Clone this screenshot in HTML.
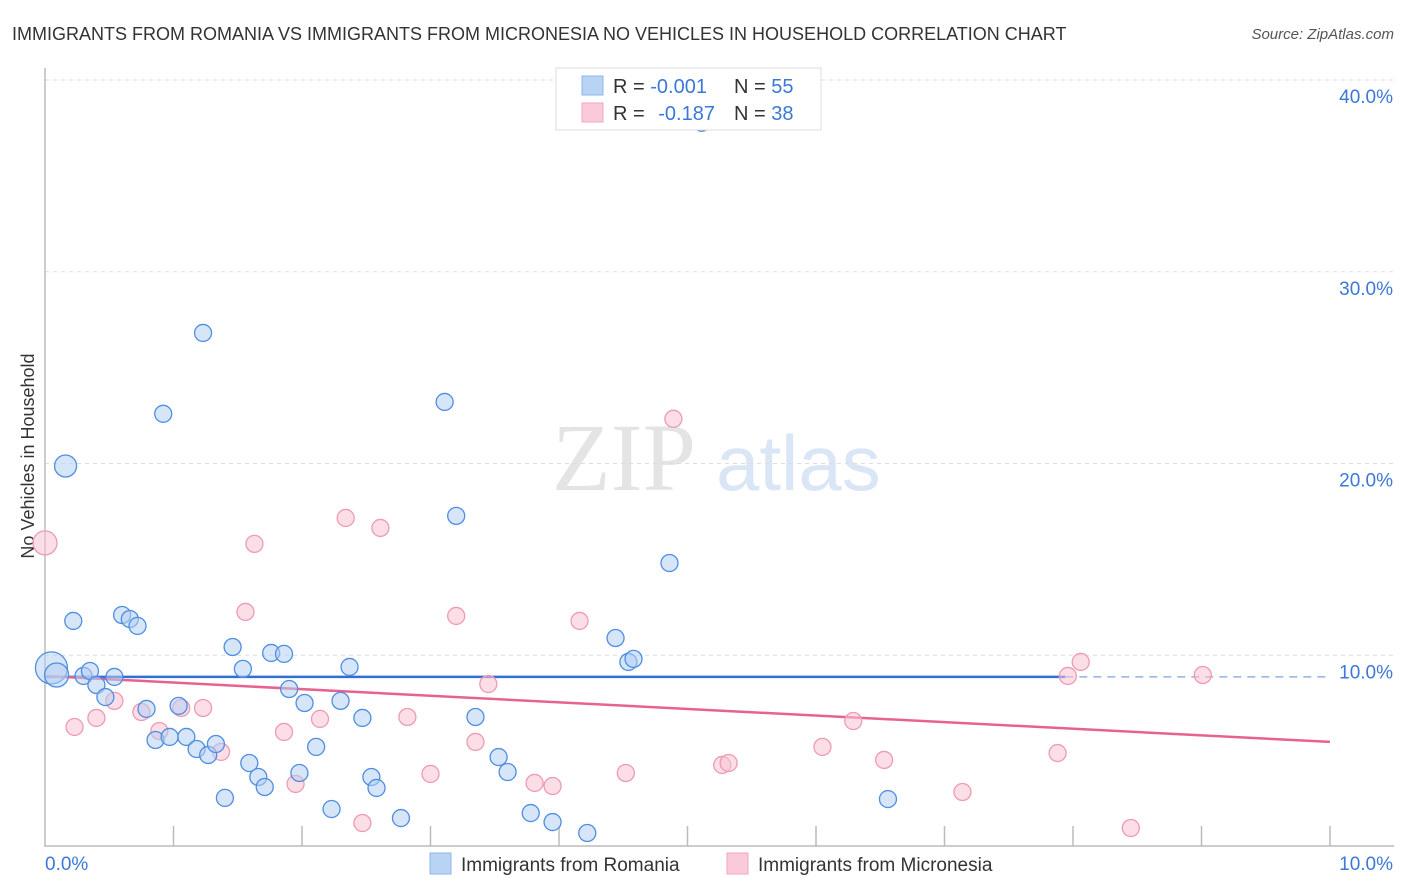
<!DOCTYPE html>
<html><head><meta charset="utf-8"><style>
body{margin:0;background:#fff;font-family:"Liberation Sans",sans-serif;}
svg{display:block}
</style></head><body>
<svg width="1406" height="892" xmlns="http://www.w3.org/2000/svg" id="chart">
<text x="12" y="40" font-size="18" fill="#333">IMMIGRANTS FROM ROMANIA VS IMMIGRANTS FROM MICRONESIA NO VEHICLES IN HOUSEHOLD CORRELATION CHART</text>
<text x="1394" y="39" font-size="15" font-style="italic" fill="#555" text-anchor="end">Source: ZipAtlas.com</text>
<g opacity="0.9">
<text x="552" y="490" font-size="96" font-family="Liberation Serif,serif" fill="#e2e2e2">ZIP</text>
<text x="716" y="490" font-size="78" fill="#d6e4f5">atlas</text>
</g>
<text transform="translate(34,456) rotate(-90)" font-size="18" fill="#333" text-anchor="middle">No Vehicles in Household</text>
<g id="grid"></g><g id="axes"></g><g id="trend"></g><g id="pts"></g>
<g>
<rect x="556" y="68" width="265" height="62" fill="#fff" stroke="#ddd"/>
<rect x="582" y="76" width="21" height="19" fill="#b9d3f5" stroke="#8fb4e8"/>
<rect x="582" y="103" width="21" height="19" fill="#fbcad8" stroke="#f0a5bd"/>
<text x="613" y="93" font-size="20" fill="#333">R = <tspan fill="#3b78d8">-0.001</tspan><tspan x="734">N = </tspan><tspan fill="#3b78d8">55</tspan></text>
<text x="613" y="120" font-size="20" fill="#333">R = <tspan fill="#3b78d8" dx="8">-0.187</tspan><tspan x="734">N = </tspan><tspan fill="#3b78d8">38</tspan></text>
</g>
<g>
<rect x="430" y="853" width="21" height="21" fill="#b9d3f5" stroke="#8fb4e8"/>
<text x="461" y="871" font-size="19" fill="#333">Immigrants from Romania</text>
<rect x="727" y="853" width="21" height="21" fill="#fbcad8" stroke="#f0a5bd"/>
<text x="758" y="871" font-size="19" fill="#333">Immigrants from Micronesia</text>
</g>
</svg>
<script>
const yTicks=[10,20,30,40];
const yTickLabels=["10.0%","20.0%","30.0%","40.0%"];
const xTickLabels=["0.0%","10.0%"];
const romaniaX=[0.05,0.09,0.16,0.22,0.30,0.35,0.40,0.47,0.54,0.60,0.66,0.72,0.79,0.86,0.92,0.97,1.04,1.10,1.18,1.23,1.27,1.33,1.40,1.46,1.54,1.59,1.66,1.71,1.76,1.86,1.90,1.98,2.02,2.11,2.23,2.30,2.37,2.47,2.54,2.58,2.77,3.11,3.20,3.35,3.53,3.60,3.78,3.95,4.22,4.44,4.54,4.58,4.86,5.11,6.56];
const romaniaY=[9.34,8.97,19.87,11.79,8.92,9.18,8.45,7.82,8.87,12.10,11.89,11.53,7.20,5.58,22.59,5.74,7.36,5.74,5.11,26.81,4.80,5.37,2.56,10.43,9.29,4.38,3.65,3.13,10.12,10.07,8.24,3.86,7.51,5.22,1.98,7.62,9.39,6.73,3.65,3.08,1.51,23.21,17.27,6.78,4.69,3.91,1.77,1.30,0.73,10.90,9.65,9.81,14.81,37.77,2.50];
const romaniaSize=[16,12,11];
const micronesiaX=[0.0,0.23,0.40,0.54,0.75,0.89,1.06,1.23,1.37,1.56,1.63,1.86,1.95,2.14,2.34,2.47,2.61,2.82,3.00,3.20,3.35,3.45,3.81,3.95,4.16,4.52,4.89,5.27,5.32,6.05,6.29,6.53,7.14,7.88,7.96,8.06,8.45,9.01];
const micronesiaY=[15.86,6.26,6.73,7.62,7.04,6.05,7.25,7.25,4.96,12.26,15.81,6.00,3.29,6.68,17.16,1.25,16.64,6.78,3.81,12.05,5.48,8.50,3.34,3.18,11.79,3.86,22.33,4.28,4.38,5.22,6.57,4.54,2.87,4.90,8.92,9.65,0.99,8.97];
const micronesiaSize=[12];
const romaniaTrend=[8.87,8.87];
const romaniaTrendSolidEnd=7.94;
const micronesiaTrend=[8.92,5.48];
const xMax=10;

const NS="http://www.w3.org/2000/svg";
const X0=45,X1=1330,Y0=847,Y40=80;
const sx=v=>X0+(X1-X0)*v/xMax;
const sy=v=>Y0-(Y0-Y40)*v/40;
function mk(tag,attrs,parent){const e=document.createElementNS(NS,tag);for(const k in attrs)e.setAttribute(k,attrs[k]);document.getElementById(parent).appendChild(e);return e;}

yTicks.forEach((t,i)=>{
  const g=mk('line',{x1:X0,x2:1394,y1:sy(t),y2:sy(t),stroke:'#ddd','stroke-dasharray':'4,4'},'grid');
  
  
  const l=mk('text',{x:1393,y:sy(t)+23,'font-size':19,fill:'#3b78d8','text-anchor':'end'},'grid');
  l.textContent=yTickLabels[i];
  
  
});
const ya=mk('line',{x1:X0,x2:X0,y1:68,y2:Y0,stroke:'#bbb','stroke-width':1.5},'axes');


const xa=mk('line',{x1:X0,x2:1394,y1:846,y2:846,stroke:'#bbb','stroke-width':1.5},'axes');


for(let i=1;i<=10;i++){
  const t=mk('line',{x1:sx(i),x2:sx(i),y1:826,y2:846,stroke:'#bbb','stroke-width':1.5},'axes');
  
  
}
[[0,'start',X0],[xMax,'end',1393]].forEach((d,i)=>{
  const l=mk('text',{x:d[2],y:870,'font-size':19,fill:'#3b78d8','text-anchor':d[1]},'axes');
  l.textContent=xTickLabels[i];
  
  
});

function pts(xs,ys,sizes,fill,stroke,name){
  xs.forEach((x,i)=>{
    const c=mk('circle',{cx:sx(x),cy:sy(ys[i]),r:sizes[i]||8.5,fill:fill,'fill-opacity':0.55,stroke:stroke,'stroke-width':1.3},'pts');
    
    
  });
}
pts(micronesiaX,micronesiaY,micronesiaSize,'#f9c3d3','#ee9ab4','micronesia-point');
pts(romaniaX,romaniaY,romaniaSize,'#b4cff3','#4f8ee0','romania-point');

const ty=(tr,x)=>tr[0]+(tr[1]-tr[0])*x/xMax;
const bl=mk('line',{x1:sx(0),y1:sy(ty(romaniaTrend,0)),x2:sx(romaniaTrendSolidEnd),y2:sy(ty(romaniaTrend,romaniaTrendSolidEnd)),stroke:'#2f6fd6','stroke-width':2.5},'trend');


const bd=mk('line',{x1:sx(romaniaTrendSolidEnd),y1:sy(ty(romaniaTrend,romaniaTrendSolidEnd)),x2:sx(xMax),y2:sy(ty(romaniaTrend,xMax)),stroke:'#8fb4e8','stroke-width':1.5,'stroke-dasharray':'8,6'},'trend');


const pl=mk('line',{x1:sx(0),y1:sy(micronesiaTrend[0]),x2:sx(xMax),y2:sy(micronesiaTrend[1]),stroke:'#e8628f','stroke-width':2.5},'trend');


</script>
</body></html>
